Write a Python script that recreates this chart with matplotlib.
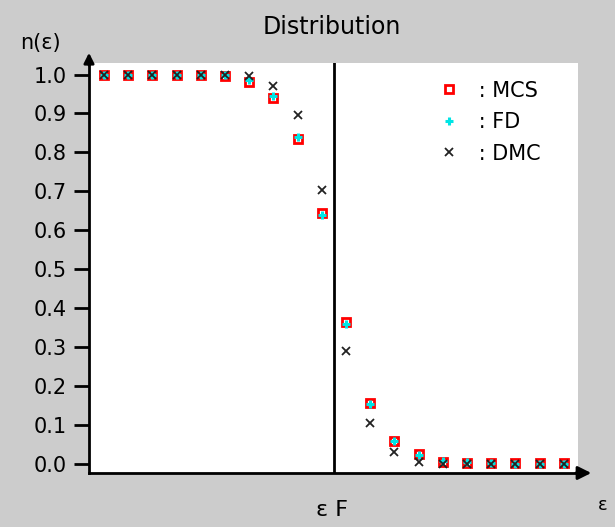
import matplotlib
matplotlib.use("Agg")
import matplotlib.pyplot as plt

# data
idx = list(range(20))
mcs = [1.0, 1.0, 1.0, 1.0, 1.0, 0.995, 0.982, 0.94, 0.835, 0.645,
       0.365, 0.156, 0.06, 0.026, 0.004, 0.003, 0.002, 0.002, 0.002, 0.002]
fd = [1.0, 1.0, 1.0, 1.0, 1.0, 0.998, 0.985, 0.945, 0.84, 0.64,
      0.36, 0.155, 0.058, 0.022, 0.008, 0.004, 0.002, 0.001, 0.001, 0.001]
dmc = [1.0, 1.0, 1.0, 1.0, 1.0, 1.0, 0.995, 0.97, 0.897, 0.704,
       0.29, 0.106, 0.032, 0.005, 0.001, 0.0, 0.0, 0.0, 0.0, 0.0]
yticks = [0.0, 0.1, 0.2, 0.3, 0.4, 0.5, 0.6, 0.7, 0.8, 0.9, 1.0]
fermi_pos = 9.5

W, H = 615, 527
fig = plt.figure(figsize=(W / 100, H / 100), dpi=100)
fig.patch.set_facecolor("#cccccc")

L, R, T, B = 89, 578, 63, 473
ax = fig.add_axes([L / W, 1 - B / H, (R - L) / W, (B - T) / H])
ax.set_facecolor("white")

x0, dx = 104, 24.2
ax.set_xlim((L - x0) / dx, (R - x0) / dx)
y0, dy = 464, 389.5
ax.set_ylim((y0 - B) / dy, (y0 - T) / dy)

for s in ["top", "right"]:
    ax.spines[s].set_visible(False)
ax.spines["left"].set_linewidth(2)
ax.spines["bottom"].set_linewidth(2)

ax.set_xticks([])
ax.set_yticks(yticks)
ax.set_yticklabels([f"{v:.1f}" for v in yticks], fontsize=15, family="DejaVu Sans")
ax.tick_params(axis="y", direction="out", length=11, width=2, pad=5)

ax.axvline(fermi_pos, color="black", lw=2)

ax.plot(idx, mcs, linestyle="none", marker="s", markersize=5.5, markerfacecolor="none",
        markeredgecolor="red", markeredgewidth=2, label=" : MCS", clip_on=False)
ax.plot(idx, fd, linestyle="none", marker="+", markersize=5.5, markeredgecolor="#00e5e5",
        markeredgewidth=2.2, label=" : FD", clip_on=False)
ax.plot(idx, dmc, linestyle="none", marker="x", markersize=6, markeredgecolor="#222222",
        markeredgewidth=1.3, label=" : DMC", clip_on=False)

leg = ax.legend(loc="upper left", bbox_to_anchor=((424 - L) / (R - L), (B - 66) / (B - T)),
                frameon=False, fontsize=15, handlelength=1.0, handletextpad=0.6,
                labelspacing=0.55, borderpad=0.2)

fig.patches.append(matplotlib.patches.FancyArrowPatch(
    (L / W, 1 - (T + 5) / H), (L / W, 1 - 50 / H), transform=fig.transFigure,
    arrowstyle="-|>,head_length=6,head_width=3", lw=2, color="black", mutation_scale=1))
fig.patches.append(matplotlib.patches.FancyArrowPatch(
    ((R - 5) / W, 1 - B / H), (594 / W, 1 - B / H), transform=fig.transFigure,
    arrowstyle="-|>,head_length=8,head_width=4", lw=2, color="black", mutation_scale=1))

fig.text(332 / W, 1 - 27 / H, "Distribution", ha="center", va="center", fontsize=17)
fig.text(40 / W, 1 - 43 / H, "n(ε)", ha="center", va="center", fontsize=15)
fig.text(332 / W, 1 - 510 / H, "ε F", ha="center", va="center", fontsize=16)
fig.text(603 / W, 1 - 505 / H, "ε", ha="center", va="center", fontsize=13)

fig.savefig("out.png", dpi=100, facecolor=fig.get_facecolor())
